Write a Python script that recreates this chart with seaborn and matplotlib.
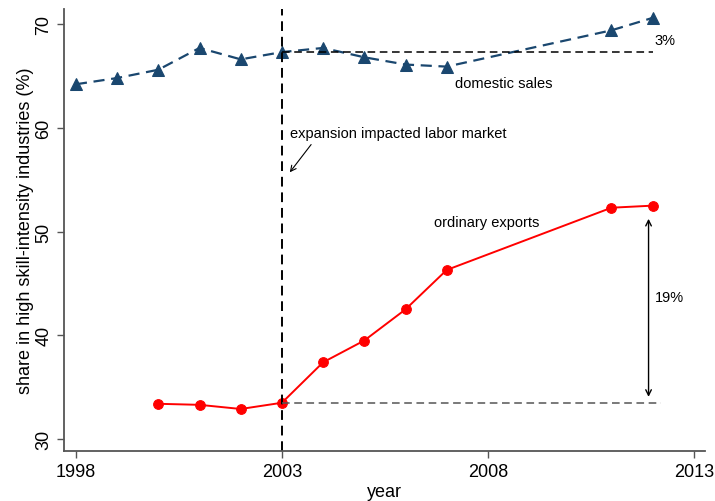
import numpy as np
import pandas as pd
import seaborn as sns
import matplotlib as mpl
import matplotlib.pyplot as plt

mpl.use('Agg')

# values
dom_years = [1998, 1999, 2000, 2001, 2002, 2003, 2004, 2005, 2006, 2007, 2011, 2012]
dom_share = [64.2, 64.8, 65.6, 67.7, 66.6, 67.3, 67.7, 66.8, 66.1, 65.9, 69.4, 70.6]
exp_years = [2000, 2001, 2002, 2003, 2004, 2005, 2006, 2007, 2011, 2012]
exp_share = [33.4, 33.3, 32.9, 33.5, 37.4, 39.5, 42.5, 46.3, 52.3, 52.5]
x_ticks = [1998, 2003, 2008, 2013]
y_ticks = [30, 40, 50, 60, 70]

sns.set_style("ticks")
plt.rcParams['font.family'] = ['Liberation Sans', 'DejaVu Sans']
plt.rcParams['text.color'] = 'black'
plt.rcParams['axes.labelcolor'] = 'black'
plt.rcParams['xtick.color'] = 'black'
plt.rcParams['ytick.color'] = 'black'

dom = pd.DataFrame({'year': dom_years, 'share': dom_share})
exp = pd.DataFrame({'year': exp_years, 'share': exp_share})

fig = plt.figure(figsize=(7.15, 5.02), dpi=100)
ax = fig.add_axes([0.0895, 0.0996, 0.8965, 0.8804])

navy = '#1a476f'
sns.lineplot(data=dom, x='year', y='share', ax=ax, color=navy, marker='^',
             markersize=9, markeredgecolor=navy, linewidth=1.6,
             dashes=False, linestyle=(0, (5, 3)))
sns.lineplot(data=exp, x='year', y='share', ax=ax, color='red', marker='o',
             markersize=7, markeredgecolor='red', linewidth=1.4)

# reference lines
ax.axvline(2003, color='black', linestyle=(0, (5, 3)), linewidth=1.4)
ax.plot([2003, 2012], [dom_share[5], dom_share[5]], color='black',
        linestyle=(0, (5, 3)), linewidth=1.1)
ax.plot([2003, 2012.2], [exp_share[3], exp_share[3]], color='#555555',
        linestyle=(0, (5, 3)), linewidth=1.1)

# annotations
ax.text(2012.05, 68.5, '3%', fontsize=10.5, va='center', ha='left')
ax.text(2007.2, 64.3, 'domestic sales', fontsize=10.5, va='center', ha='left')
ax.text(2006.7, 50.9, 'ordinary exports', fontsize=10.5, va='center', ha='left')
ax.text(2003.2, 59.5, 'expansion impacted labor market', fontsize=10.5,
        va='center', ha='left')
ax.annotate('', xy=(2003.15, 55.5), xytext=(2003.75, 58.6),
            arrowprops=dict(arrowstyle='->', color='black', lw=0.8))
ax.annotate('', xy=(2011.9, 51.5), xytext=(2011.9, 33.8),
            arrowprops=dict(arrowstyle='<->', color='black', lw=1.0))
ax.text(2012.05, 43.7, '19%', fontsize=10.5, va='center', ha='left')

ax.set_xlim(1997.71, 2013.27)
ax.set_ylim(28.85, 71.45)
ax.set_xticks(x_ticks)
ax.set_yticks(y_ticks)
ax.tick_params(axis='both', labelsize=13, length=5, color='#555555', width=1)
ax.tick_params(axis='y', labelrotation=90)
plt.setp(ax.get_yticklabels(), va='center')
ax.set_xlabel('year', fontsize=13, labelpad=2)
ax.set_ylabel('share in high skill-intensity industries (%)', fontsize=13, labelpad=1)
for side in ['top', 'right']:
    ax.spines[side].set_visible(False)
for side in ['left', 'bottom']:
    ax.spines[side].set_color('#555555')
    ax.spines[side].set_linewidth(1.3)

fig.savefig('out.png', dpi=100)
